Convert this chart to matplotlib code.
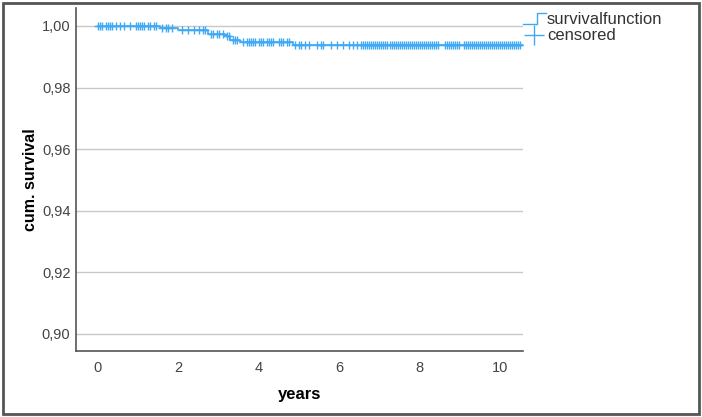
import matplotlib
matplotlib.use("Agg")
import matplotlib.pyplot as plt
from matplotlib.lines import Line2D
from matplotlib.legend_handler import HandlerBase
from matplotlib.patches import Rectangle
from matplotlib.ticker import FuncFormatter

plt.rcParams["font.family"] = ["Liberation Sans", "DejaVu Sans"]

# survival steps (years, cumulative survival)
event_years = [0.0, 1.55, 2.0, 2.74, 3.16, 3.28, 3.53, 4.85, 10.57]
survival = [1.0, 0.9993, 0.9986, 0.9975, 0.9966, 0.9955, 0.9947, 0.9938, 0.9938]

# censored observation times (years)
censored_years = [
    0.0, 0.05, 0.1, 0.2, 0.25, 0.3, 0.35, 0.45, 0.55, 0.65, 0.8, 0.95, 1.0,
    1.05, 1.1, 1.15, 1.25, 1.3, 1.4, 1.45,
    1.6, 1.7, 1.75, 1.85,
    2.1, 2.25, 2.4, 2.5, 2.6, 2.65,
    2.8, 2.85, 2.95, 3.0, 3.1,
    3.2, 3.25,
    3.35, 3.4, 3.45,
    3.6, 3.7, 3.75, 3.8, 3.85, 3.9, 4.0, 4.05, 4.1, 4.2, 4.25, 4.3, 4.35,
    4.5, 4.55, 4.6, 4.7, 4.75,
    4.9, 5.0, 5.05, 5.15, 5.25, 5.45, 5.55, 5.6, 5.8, 5.95, 6.1, 6.25, 6.35,
    6.45, 6.55, 6.6, 6.65, 6.7, 6.75, 6.8, 6.85, 6.9, 6.95, 7.0, 7.05, 7.1,
    7.15, 7.2, 7.25, 7.3, 7.35, 7.4, 7.45, 7.5, 7.55, 7.6, 7.65, 7.7, 7.75,
    7.8, 7.85, 7.9, 7.95, 8.0, 8.05, 8.1, 8.15, 8.2, 8.25, 8.3, 8.35, 8.4,
    8.45, 8.62, 8.67, 8.72, 8.77, 8.82, 8.87, 8.92, 8.97, 9.1, 9.15, 9.2,
    9.25, 9.3, 9.35, 9.4, 9.45, 9.5, 9.55, 9.6, 9.65, 9.7, 9.75, 9.8, 9.85,
    9.9, 9.95, 10.0, 10.05, 10.1, 10.15, 10.2, 10.25, 10.3, 10.35, 10.4,
    10.45, 10.5,
]

y_ticks = [0.90, 0.92, 0.94, 0.96, 0.98, 1.00]
x_ticks = [0, 2, 4, 6, 8, 10]

blue = "#3fa9f5"


def surv_at(t):
    s = survival[0]
    for ty, sv in zip(event_years, survival):
        if ty <= t:
            s = sv
    return s


class StepHandler(HandlerBase):
    def create_artists(self, legend, orig_handle, xd, yd, w, h, fontsize, trans):
        xs = [xd, xd + w * 0.6, xd + w * 0.6, xd + w]
        ys = [yd, yd, yd + h * 0.9, yd + h * 0.9]
        ln = Line2D(xs, ys, color=blue, lw=1.0, transform=trans)
        return [ln]


fig = plt.figure(figsize=(7.02, 4.17), dpi=100)
ax = fig.add_axes([76 / 702, 66 / 417, 447 / 702, 343 / 417])

step_line, = ax.step(event_years, survival, where="post", color=blue, lw=1.2)
ax.plot(censored_years, [surv_at(t) for t in censored_years], "+",
        color=blue, ms=6, mew=1.0, linestyle="none")

ax.set_xlim(-0.547, 10.57)
ax.set_ylim(0.89448, 1.00584)
ax.set_yticks(y_ticks)
ax.set_xticks(x_ticks)
ax.yaxis.set_major_formatter(FuncFormatter(lambda v, p: f"{v:.2f}".replace(".", ",")))
ax.grid(axis="y", color="#c8c8c8", lw=1.0)
ax.set_axisbelow(True)
for s in ["top", "right"]:
    ax.spines[s].set_visible(False)
for s in ["left", "bottom"]:
    ax.spines[s].set_color("#555555")
    ax.spines[s].set_linewidth(1.2)
ax.tick_params(axis="both", length=0, labelsize=10.5, labelcolor="#444444")
ax.tick_params(axis="x", pad=7)
ax.tick_params(axis="y", pad=4)
ax.set_xlabel("years", fontsize=12, fontweight="bold", labelpad=9)
ax.set_ylabel("cum. survival", fontsize=11.5, fontweight="bold", labelpad=3)

leg_cens = Line2D([], [], color=blue, marker="+", ms=14, mew=1.0, linestyle="none")
fig.legend([step_line, leg_cens], ["survivalfunction", "censored"],
           handler_map={step_line: StepHandler()},
           loc="upper left", bbox_to_anchor=(516 / 702, 412 / 417),
           frameon=False, fontsize=12, handlelength=1.4, handleheight=0.7,
           handletextpad=0.05, labelspacing=0.1, borderaxespad=0,
           labelcolor="#333333")

fig.patches.append(Rectangle((3 / 702, 3 / 417), 696 / 702, 411 / 417,
                             transform=fig.transFigure, fill=False,
                             edgecolor="#555555", lw=2))

fig.savefig("out.png", dpi=100)
